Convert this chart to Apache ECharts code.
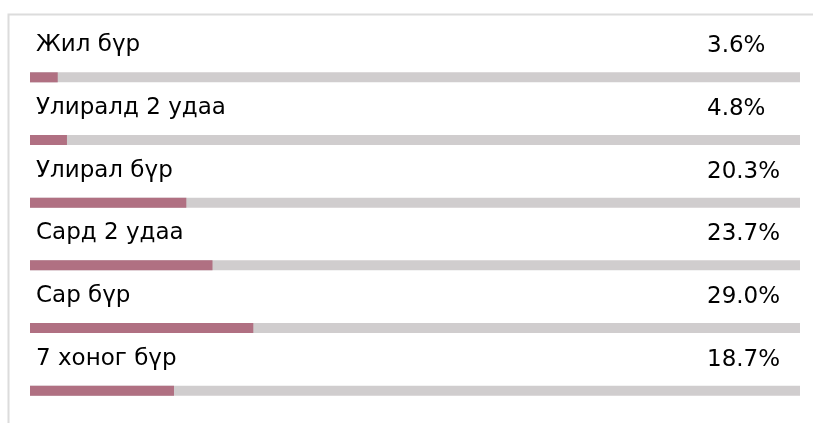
<!DOCTYPE html>
<html>
<head>
<meta charset="utf-8">
<script src="https://cdn.jsdelivr.net/npm/echarts@6/dist/echarts.min.js"></script>
<style>
  html, body { margin: 0; padding: 0; background: #fff; }
  #chart { width: 813px; height: 423px; }
</style>
</head>
<body>
<div id="chart"></div>
<script>
const categories = ['Жил бүр', 'Улиралд 2 удаа', 'Улирал бүр', 'Сард 2 удаа', 'Сар бүр', '7 хоног бүр']
const shares = [3.6, 4.8, 20.3, 23.7, 29.0, 18.7]
const fullScale = categories.map(() => 100)

const chart = echarts.init(document.getElementById('chart'))

const fontFamily = '"DejaVu Sans", "Liberation Sans", Arial, sans-serif'

const option = {
  animation: false,
  grid: {
    left: 30,
    top: 46,
    width: 770,
    height: 376
  },
  xAxis: {
    type: 'value',
    min: 0,
    max: 100,
    show: false
  },
  yAxis: {
    type: 'category',
    data: categories,
    inverse: true,
    show: false
  },
  graphic: [
    {
      type: 'polyline',
      shape: { points: [[8.5, 423], [8.5, 14.5], [813, 14.5]] },
      style: { stroke: '#dcdcdc', lineWidth: 2, fill: null },
      silent: true
    }
  ],
  series: [
    {
      name: 'track',
      type: 'bar',
      data: fullScale,
      barWidth: 10,
      barGap: '-100%',
      itemStyle: { color: '#d0cdce' },
      label: {
        show: true,
        position: [6, -27],
        align: 'left',
        verticalAlign: 'middle',
        formatter: p => p.name,
        fontFamily,
        fontSize: 23,
        color: '#000'
      },
      silent: true
    },
    {
      name: 'share',
      type: 'bar',
      data: shares,
      barWidth: 10,
      barGap: '-100%',
      itemStyle: { color: '#b07082' },
      label: {
        show: true,
        position: [677, -26],
        align: 'left',
        verticalAlign: 'middle',
        formatter: p => p.value.toFixed(1) + '%',
        fontFamily,
        fontSize: 23,
        color: '#000'
      }
    }
  ]
}

chart.setOption(option)
</script>
</body>
</html>
